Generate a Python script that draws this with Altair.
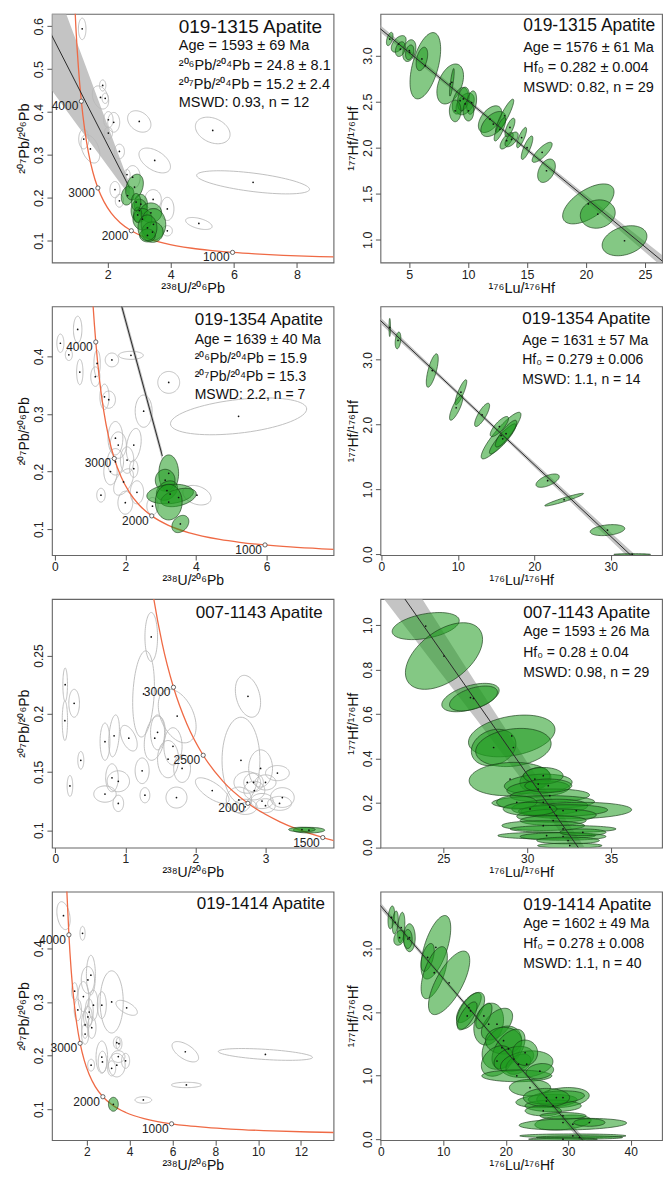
import math
import altair as alt
import pandas as pd

FONT = "Arial, Liberation Sans, Helvetica, sans-serif"

# ---------------- Concordia (Tera-Wasserburg) reference points ----------------
CONC_AGE = [300, 400, 500, 600, 700, 800, 900, 1000, 1125, 1250, 1500, 1750, 2000, 2250,
            2500, 2750, 3000, 3250, 3500, 3750, 4000, 4250, 4500, 4750, 5000]
CONC_X = [20.992, 15.621, 12.399, 10.252, 8.718, 7.568, 6.674, 5.959, 5.245, 4.673, 3.817,
          3.206, 2.749, 2.394, 2.111, 1.880, 1.687, 1.525, 1.387, 1.267, 1.163, 1.071,
          0.990, 0.918, 0.853]
CONC_Y = [0.05236, 0.05473, 0.05725, 0.05993, 0.06279, 0.06583, 0.06907, 0.07253, 0.07718,
          0.08222, 0.09364, 0.10711, 0.12304, 0.14192, 0.16433, 0.19099, 0.22276, 0.26066,
          0.30597, 0.36020, 0.42520, 0.50322, 0.59697, 0.70978, 0.84565]
MARK_AGES_A = [1000, 2000, 3000, 4000]
MARK_AGES_B = [1500, 2000, 2500, 3000]

# ---------------- ellipses: (centre x, centre y, half-width x, half-width y, correlation) -------
L1_GREY = [(1.19, 0.594, 0.12, 0.025, 0.0), (1.84, 0.462, 0.10, 0.013, 0.0),
           (1.77, 0.434, 0.26, 0.027, -0.3), (1.92, 0.432, 0.10, 0.012, 0.0),
           (2.02, 0.382, 0.15, 0.019, 0.0), (2.19, 0.376, 0.19, 0.023, 0.0),
           (2.02, 0.351, 0.13, 0.014, 0.0), (3.00, 0.378, 0.37, 0.025, -0.3),
           (1.24, 0.337, 0.16, 0.023, 0.0), (1.45, 0.314, 0.30, 0.033, -0.4),
           (2.37, 0.308, 0.16, 0.017, 0.0), (3.49, 0.287, 0.50, 0.029, -0.5),
           (5.33, 0.357, 0.55, 0.031, -0.3), (6.61, 0.236, 1.79, 0.027, -0.6),
           (2.61, 0.254, 0.10, 0.012, 0.0), (2.79, 0.248, 0.24, 0.027, 0.0),
           (2.23, 0.219, 0.16, 0.019, 0.0), (2.37, 0.193, 0.13, 0.015, 0.0),
           (3.44, 0.196, 0.26, 0.023, 0.0), (3.89, 0.174, 0.21, 0.027, 0.0),
           (3.89, 0.123, 0.16, 0.012, 0.0), (4.89, 0.140, 0.42, 0.014, -0.5)]
L1_GREEN = [(2.63, 0.205, 0.20, 0.022, 0.2), (2.85, 0.225, 0.28, 0.030, 0.3),
            (3.05, 0.185, 0.21, 0.023, 0.0), (3.00, 0.170, 0.26, 0.027, 0.0),
            (3.37, 0.165, 0.34, 0.023, 0.0), (3.10, 0.150, 0.30, 0.025, 0.0),
            (3.45, 0.138, 0.39, 0.037, 0.0), (3.42, 0.120, 0.34, 0.024, 0.0),
            (3.26, 0.112, 0.25, 0.015, 0.0), (2.95, 0.160, 0.13, 0.018, 0.0),
            (2.90, 0.190, 0.15, 0.020, 0.0), (3.26, 0.130, 0.30, 0.030, 0.0)]
L2_GREY = [(0.16, 0.423, 0.10, 0.016, 0.0), (0.40, 0.403, 0.10, 0.010, 0.0),
           (0.65, 0.447, 0.12, 0.023, 0.0), (0.71, 0.373, 0.09, 0.022, 0.0),
           (1.20, 0.388, 0.09, 0.023, 0.0), (1.15, 0.365, 0.13, 0.017, 0.0),
           (1.62, 0.394, 0.19, 0.012, 0.0), (2.16, 0.402, 0.35, 0.007, 0.0),
           (3.23, 0.355, 0.31, 0.019, 0.0), (1.41, 0.330, 0.13, 0.022, 0.0),
           (1.53, 0.325, 0.19, 0.015, 0.0), (2.52, 0.305, 0.24, 0.028, 0.0),
           (5.21, 0.296, 1.93, 0.032, 0.4), (1.72, 0.258, 0.21, 0.029, 0.0),
           (1.80, 0.246, 0.23, 0.023, 0.0), (2.24, 0.246, 0.21, 0.029, 0.3),
           (1.72, 0.217, 0.23, 0.023, 0.0), (2.05, 0.220, 0.19, 0.023, 0.0),
           (1.58, 0.200, 0.19, 0.023, 0.0), (1.31, 0.159, 0.12, 0.012, 0.0),
           (2.00, 0.146, 0.21, 0.020, 0.0), (2.33, 0.164, 0.19, 0.020, 0.0),
           (2.77, 0.140, 0.16, 0.015, 0.0), (4.03, 0.159, 0.40, 0.017, -0.3),
           (1.95, 0.182, 0.28, 0.023, 0.5), (2.24, 0.205, 0.12, 0.015, 0.0)]
L2_GREEN = [(3.23, 0.197, 0.28, 0.032, 0.0), (3.13, 0.185, 0.28, 0.019, 0.0),
            (3.18, 0.167, 0.30, 0.017, 0.3), (3.27, 0.161, 0.66, 0.017, 0.2),
            (3.51, 0.155, 0.50, 0.016, 0.4), (3.23, 0.147, 0.38, 0.031, 0.0),
            (3.56, 0.109, 0.24, 0.015, 0.3)]
L3_GREY = [(0.142, 0.225, 0.033, 0.0143, 0.0), (0.138, 0.194, 0.038, 0.017, 0.0),
           (0.27, 0.209, 0.076, 0.012, 0.0), (0.365, 0.160, 0.043, 0.0076, 0.0),
           (0.21, 0.138, 0.040, 0.009, 0.0), (1.37, 0.266, 0.09, 0.021, 0.0),
           (1.26, 0.217, 0.155, 0.037, 0.2), (0.71, 0.176, 0.07, 0.016, 0.0),
           (0.84, 0.181, 0.076, 0.018, 0.3), (1.05, 0.179, 0.12, 0.011, -0.5),
           (1.42, 0.179, 0.15, 0.019, 0.3), (1.46, 0.184, 0.10, 0.015, 0.0),
           (1.74, 0.198, 0.27, 0.023, -0.4), (1.68, 0.172, 0.13, 0.016, 0.0),
           (1.61, 0.161, 0.15, 0.016, 0.0), (1.81, 0.153, 0.12, 0.012, 0.0),
           (0.81, 0.145, 0.09, 0.012, 0.0), (0.90, 0.142, 0.16, 0.009, 0.0),
           (0.71, 0.131, 0.16, 0.007, 0.0), (1.24, 0.151, 0.10, 0.011, 0.0),
           (1.28, 0.130, 0.07, 0.0065, 0.0), (0.90, 0.123, 0.076, 0.007, 0.0),
           (1.73, 0.128, 0.15, 0.009, 0.0), (2.24, 0.134, 0.24, 0.011, -0.7),
           (2.75, 0.215, 0.18, 0.018, -0.3), (2.65, 0.160, 0.27, 0.037, 0.0),
           (2.93, 0.153, 0.17, 0.016, 0.0), (2.74, 0.141, 0.19, 0.0093, 0.0),
           (2.83, 0.141, 0.14, 0.008, 0.0), (3.00, 0.141, 0.15, 0.0065, 0.0),
           (3.17, 0.149, 0.17, 0.0065, 0.0), (2.84, 0.134, 0.15, 0.008, 0.0),
           (2.62, 0.126, 0.18, 0.011, 0.0), (2.95, 0.125, 0.16, 0.0065, 0.0),
           (3.00, 0.121, 0.14, 0.006, 0.0), (3.24, 0.128, 0.17, 0.0085, 0.0),
           (3.20, 0.123, 0.17, 0.006, 0.0), (2.71, 0.120, 0.17, 0.0065, 0.0)]
L3_GREEN = [(3.62, 0.1000, 0.225, 0.0024, 0.0), (3.52, 0.1005, 0.19, 0.0020, 0.0)]
L4_GREY = [(0.91, 0.461, 0.31, 0.026, -0.3), (1.80, 0.428, 0.12, 0.013, 0.0),
           (1.43, 0.320, 0.14, 0.016, 0.0), (1.58, 0.285, 0.17, 0.020, 0.0),
           (1.84, 0.310, 0.25, 0.028, 0.0), (2.05, 0.341, 0.31, 0.025, 0.0),
           (2.19, 0.350, 0.21, 0.037, 0.0), (2.11, 0.281, 0.19, 0.025, 0.0),
           (2.05, 0.272, 0.20, 0.020, 0.0), (1.92, 0.257, 0.17, 0.025, 0.0),
           (1.92, 0.240, 0.17, 0.019, 0.0), (2.31, 0.294, 0.21, 0.028, 0.0),
           (2.23, 0.252, 0.20, 0.020, 0.0), (2.70, 0.294, 0.21, 0.025, 0.0),
           (3.16, 0.300, 0.54, 0.058, 0.0), (3.86, 0.289, 0.50, 0.014, -0.6),
           (3.40, 0.224, 0.16, 0.011, 0.0), (3.50, 0.222, 0.14, 0.012, 0.0),
           (2.70, 0.197, 0.27, 0.030, 0.0), (2.73, 0.188, 0.20, 0.020, 0.0),
           (2.20, 0.182, 0.16, 0.011, 0.0), (3.16, 0.176, 0.19, 0.014, 0.0),
           (3.40, 0.182, 0.39, 0.022, 0.0), (3.47, 0.198, 0.31, 0.011, 0.0),
           (3.81, 0.190, 0.19, 0.014, 0.0), (6.60, 0.207, 0.62, 0.019, -0.6),
           (10.34, 0.202, 2.20, 0.011, -0.5), (6.65, 0.145, 0.70, 0.005, 0.0),
           (4.64, 0.117, 0.39, 0.006, 0.0)]
L4_GREEN = [(3.24, 0.109, 0.23, 0.013, 0.0)]

R1_GREEN = [(3.35, 3.18, 0.28, 0.072, 0.5), (4.11, 3.127, 0.63, 0.09, 0.5),
            (5.01, 3.054, 0.56, 0.118, 0.3), (5.04, 3.036, 0.35, 0.08, 0.3),
            (6.37, 2.89, 1.30, 0.36, 0.5), (6.08, 2.964, 0.49, 0.127, 0.4),
            (8.48, 2.692, 1.13, 0.217, 0.4), (9.32, 2.51, 0.66, 0.145, 0.4),
            (9.75, 2.475, 0.77, 0.118, 0.4), (9.60, 2.53, 0.50, 0.127, 0.3),
            (11.86, 2.31, 0.99, 0.145, 0.5), (12.14, 2.257, 1.06, 0.136, 0.5),
            (13.10, 2.347, 0.77, 0.18, 0.9), (12.70, 2.20, 0.49, 0.127, 0.8),
            (13.27, 2.076, 0.56, 0.09, 0.7), (13.69, 2.09, 0.56, 0.08, 0.6),
            (14.54, 2.11, 0.42, 0.11, 0.8), (15.00, 2.00, 0.49, 0.127, 0.8),
            (16.28, 1.95, 0.85, 0.109, 0.8), (16.65, 1.75, 0.75, 0.127, 0.4),
            (20.20, 1.39, 2.18, 0.217, 0.6), (21.00, 1.28, 1.48, 0.154, 0.1),
            (23.27, 0.99, 1.90, 0.163, 0.3), (10.30, 2.49, 0.42, 0.127, 0.3),
            (10.03, 2.40, 0.45, 0.11, 0.0), (13.55, 2.22, 0.42, 0.10, 0.7),
            (8.90, 2.40, 0.49, 0.118, 0.0), (4.25, 3.07, 0.42, 0.08, 0.3),
            (8.62, 2.71, 0.20, 0.15, 0.8)]
R2_GREEN = [(1.09, 3.50, 0.10, 0.14, 0.0), (2.17, 3.30, 0.37, 0.129, 0.3),
            (6.65, 2.835, 0.78, 0.258, 0.7), (10.40, 2.50, 0.76, 0.193, 0.85),
            (9.78, 2.26, 0.87, 0.193, 0.8), (13.17, 2.15, 0.98, 0.18, 0.8),
            (15.65, 1.83, 2.60, 0.36, 0.9), (15.43, 1.97, 1.20, 0.155, 0.8),
            (15.87, 1.78, 1.74, 0.232, 0.9), (16.30, 1.86, 1.41, 0.206, 0.85),
            (21.74, 1.134, 1.52, 0.103, 0.6), (23.90, 0.84, 2.54, 0.098, 0.95),
            (29.57, 0.37, 2.26, 0.085, 0.3), (32.80, -0.005, 2.40, 0.012, 0.0)]
R3_GREEN = [(23.95, 0.996, 2.00, 0.061, 0.4), (25.04, 0.861, 2.30, 0.150, 0.5),
            (26.62, 0.674, 1.71, 0.064, 0.5), (26.80, 0.670, 1.43, 0.056, 0.5),
            (29.08, 0.501, 2.58, 0.094, 0.3), (28.00, 0.449, 1.33, 0.082, 0.2),
            (29.18, 0.449, 2.25, 0.086, 0.2), (28.98, 0.307, 2.44, 0.075, 0.1),
            (30.46, 0.307, 0.89, 0.052, 0.3), (30.66, 0.284, 2.02, 0.045, 0.2),
            (30.66, 0.262, 1.87, 0.037, 0.2), (31.35, 0.232, 2.37, 0.030, 0.1),
            (30.96, 0.202, 3.06, 0.030, 0.1), (31.35, 0.180, 2.27, 0.036, 0.2),
            (32.93, 0.165, 3.30, 0.037, 0.1), (32.14, 0.165, 2.66, 0.026, 0.1),
            (31.75, 0.142, 2.37, 0.030, 0.1), (31.55, 0.120, 1.97, 0.022, 0.0),
            (30.96, 0.097, 2.47, 0.022, 0.0), (32.14, 0.082, 3.16, 0.016, 0.0),
            (31.16, 0.052, 2.91, 0.015, 0.0), (32.14, 0.048, 2.56, 0.017, 0.0),
            (32.44, 0.030, 1.87, 0.015, 0.0), (32.54, 0.007, 1.92, 0.011, 0.0),
            (29.38, 0.202, 1.20, 0.030, 0.0), (33.32, 0.067, 1.38, 0.015, 0.0),
            (30.17, 0.172, 1.60, 0.030, 0.0), (30.96, 0.322, 1.18, 0.037, 0.0),
            (31.26, 0.277, 1.40, 0.030, 0.0)]
R4_GREEN = [(1.69, 3.49, 0.53, 0.18, 0.3), (2.32, 3.41, 0.48, 0.18, 0.3),
            (3.28, 3.33, 0.58, 0.24, 0.3), (3.01, 3.17, 0.92, 0.118, 0.3),
            (4.60, 3.17, 0.92, 0.22, 0.0), (8.82, 3.02, 2.38, 0.50, 0.6),
            (7.50, 2.86, 1.06, 0.22, 0.5), (8.56, 2.62, 2.10, 0.41, 0.6),
            (10.94, 2.46, 3.30, 0.50, 0.7), (14.10, 2.07, 1.98, 0.236, 0.7),
            (14.37, 2.02, 2.25, 0.29, 0.6), (13.84, 1.94, 1.58, 0.22, 0.7),
            (17.27, 1.81, 2.38, 0.33, 0.2), (18.60, 1.81, 2.50, 0.25, 0.5),
            (19.39, 1.44, 3.17, 0.34, 0.3), (19.65, 1.55, 2.90, 0.21, 0.0),
            (20.44, 1.42, 2.64, 0.31, 0.5), (18.60, 1.23, 2.50, 0.24, 0.3),
            (21.30, 1.26, 3.17, 0.20, 0.3), (22.03, 1.18, 2.00, 0.16, 0.4),
            (23.35, 1.18, 4.20, 0.21, 0.2), (21.77, 0.996, 5.60, 0.092, 0.0),
            (23.88, 0.81, 3.30, 0.13, 0.0), (26.52, 0.60, 4.90, 0.105, 0.2),
            (29.16, 0.655, 4.20, 0.157, 0.2), (27.58, 0.524, 4.50, 0.092, 0.0),
            (28.10, 0.655, 4.50, 0.105, 0.3), (26.52, 0.655, 3.70, 0.144, 0.0),
            (26.00, 0.446, 2.90, 0.079, 0.0), (29.16, 0.262, 4.50, 0.118, 0.3),
            (30.74, 0.236, 8.60, 0.092, 0.2), (29.16, 0.367, 3.70, 0.052, 0.0),
            (30.74, 0.052, 8.50, 0.030, 0.0), (31.80, 0.026, 6.90, 0.026, 0.0),
            (33.38, 0.262, 2.50, 0.060, 0.0), (16.50, 1.94, 1.30, 0.20, 0.6),
            (4.33, 3.15, 0.70, 0.15, 0.0), (23.10, 1.36, 2.00, 0.20, 0.0),
            (29.16, 0.000, 5.50, 0.020, 0.0), (25.46, 1.07, 2.20, 0.12, 0.2)]

# ---------------- isochron lines and confidence bands ----------------
L1_LINE_X, L1_LINE_Y = [0.0, 2.7], [0.611, 0.222]
L1_BAND_X = [0.0, 0.6, 1.2, 1.8, 2.3, 2.7]
L1_BAND_LO = [0.473, 0.413, 0.353, 0.294, 0.244, 0.204]
L1_BAND_HI = [0.764, 0.645, 0.527, 0.408, 0.309, 0.230]
L2_LINE_X, L2_LINE_Y = [1.85, 3.05], [0.498, 0.227]
L2_BAND_X = [1.85, 2.45, 3.05]
L2_BAND_LO = [0.489, 0.354, 0.218]
L2_BAND_HI = [0.507, 0.372, 0.236]
R1_LINE_X, R1_LINE_Y = [2.0, 27.0], [3.349, 0.714]
R1_BAND_X = [2.0, 8.0, 14.0, 20.0, 27.0]
R1_BAND_LO = [3.309, 2.692, 2.064, 1.417, 0.649]
R1_BAND_HI = [3.389, 2.742, 2.104, 1.487, 0.779]
R2_LINE_X, R2_LINE_Y = [-0.2, 33.5], [3.615, -0.115]
R2_BAND_X = [-0.2, 8.0, 16.0, 25.0, 33.5]
R2_BAND_LO = [3.565, 2.677, 1.792, 0.776, -0.185]
R2_BAND_HI = [3.665, 2.737, 1.852, 0.876, -0.045]
R3_LINE_X, R3_LINE_Y = [21.0, 34.0], [1.303, -0.105]
R3_BAND_X = [21.0, 24.0, 27.0, 30.0, 34.0]
R3_BAND_LO = [1.163, 0.868, 0.573, 0.273, -0.145]
R3_BAND_HI = [1.443, 1.088, 0.733, 0.383, -0.065]
R4_LINE_X, R4_LINE_Y = [-0.1, 33.0], [3.681, -0.095]
R4_BAND_X = [-0.1, 8.0, 16.0, 24.0, 33.0]
R4_BAND_LO = [3.631, 2.727, 1.814, 0.891, -0.155]
R4_BAND_HI = [3.731, 2.787, 1.874, 0.971, -0.035]

# ---------------- texts ----------------
UPB_X, UPB_Y = "²³⁸U/²⁰⁶Pb", "²⁰⁷Pb/²⁰⁶Pb"
LUHF_X, LUHF_Y = "¹⁷⁶Lu/¹⁷⁶Hf", "¹⁷⁷Hf/¹⁷⁶Hf"
L1_TEXT = ["019-1315 Apatite", "Age = 1593 ± 69 Ma", "²⁰⁶Pb/²⁰⁴Pb = 24.8 ± 8.1",
           "²⁰⁷Pb/²⁰⁴Pb = 15.2 ± 2.4", "MSWD: 0.93, n = 12"]
L2_TEXT = ["019-1354 Apatite", "Age = 1639 ± 40 Ma", "²⁰⁶Pb/²⁰⁴Pb = 15.9",
           "²⁰⁷Pb/²⁰⁴Pb = 15.3", "MSWD: 2.2, n = 7"]
L3_TEXT = ["007-1143 Apatite"]
L4_TEXT = ["019-1414 Apatite"]
R1_TEXT = ["019-1315 Apatite", "Age = 1576 ± 61 Ma", "Hf₀ = 0.282 ± 0.004", "MSWD: 0.82, n = 29"]
R2_TEXT = ["019-1354 Apatite", "Age = 1631 ± 57 Ma", "Hf₀ = 0.279 ± 0.006", "MSWD: 1.1, n = 14"]
R3_TEXT = ["007-1143 Apatite", "Age = 1593 ± 26 Ma", "Hf₀ = 0.28 ± 0.04", "MSWD: 0.98, n = 29"]
R4_TEXT = ["019-1414 Apatite", "Age = 1602 ± 49 Ma", "Hf₀ = 0.278 ± 0.008", "MSWD: 1.1, n = 40"]

# ---------------- styling ----------------
W, H = 282, 249
GREEN_FILL = "#1f9a1f"
GREEN_EDGE = "#163816"
GREY_EDGE = "#b9b9b9"
CONC_COLOR = "#ef6a45"
BAND_COLOR = "#b0b0b0"
N_PTS = 72


def ellipse_frame(items):
    rows = []
    for k, (cx, cy, sx, sy, r) in enumerate(items):
        s = math.sqrt(max(0.0, 1.0 - r * r))
        for i in range(N_PTS + 1):
            t = 2 * math.pi * i / N_PTS
            rows.append({"e": k, "i": i, "x": cx + sx * math.cos(t),
                         "y": cy + sy * (r * math.cos(t) + s * math.sin(t))})
    return pd.DataFrame(rows)


def centre_frame(items):
    return pd.DataFrame({"x": [e[0] for e in items], "y": [e[1] for e in items]})


def build(p):
    X = alt.X("x:Q", scale=alt.Scale(domain=p["xdom"], nice=False, zero=False),
              axis=alt.Axis(values=p["xticks"], format=p["xfmt"], title=p["xtitle"],
                            labelFontSize=p["tfs"], titleFontSize=p["afs"], titlePadding=1))
    Y = alt.Y("y:Q", scale=alt.Scale(domain=p["ydom"], nice=False, zero=False),
              axis=alt.Axis(values=p["yticks"], format=p["yfmt"], title=p["ytitle"],
                            labelFontSize=p["tfs"], titleFontSize=p["afs"], titlePadding=1))
    layers = []
    if p.get("band"):
        bx, blo, bhi = p["band"]
        layers.append(alt.Chart(pd.DataFrame({"x": bx, "y": blo, "y2": bhi}))
                      .mark_area(clip=True, color=BAND_COLOR, opacity=0.75)
                      .encode(x=X, y=Y, y2=alt.Y2("y2:Q")))
    line_chart = None
    if p.get("line"):
        lx, ly = p["line"]
        line_chart = (alt.Chart(pd.DataFrame({"x": lx, "y": ly}))
                      .mark_line(clip=True, color="#2a2a2a", strokeWidth=1.0)
                      .encode(x=X, y=Y))
    if p.get("grey"):
        layers.append(alt.Chart(ellipse_frame(p["grey"]))
                      .mark_line(clip=True, stroke=GREY_EDGE, strokeWidth=0.9)
                      .encode(x=X, y=Y, detail="e:N", order="i:Q"))
    if p.get("conc"):
        layers.append(alt.Chart(pd.DataFrame({"x": CONC_X, "y": CONC_Y}))
                      .mark_line(clip=True, color=CONC_COLOR, strokeWidth=1.3,
                                 interpolate="monotone")
                      .encode(x=X, y=Y))
        ages = p["conc"]
        mk = pd.DataFrame({"x": [CONC_X[CONC_AGE.index(a)] for a in ages],
                           "y": [CONC_Y[CONC_AGE.index(a)] for a in ages],
                           "lab": [str(a) for a in ages]})
        layers.append(alt.Chart(mk).mark_point(clip=True, shape="circle", size=18, filled=True,
                                               fill="white", stroke="#444", strokeWidth=0.8,
                                               opacity=1).encode(x=X, y=Y))
        layers.append(alt.Chart(mk).mark_text(align="right", baseline="middle", dx=-3, dy=5,
                                              fontSize=12, font=FONT, color="#222")
                      .encode(x=X, y=Y, text="lab:N"))
    if line_chart is not None and p["line_below"]:
        layers.append(line_chart)
    layers.append(alt.Chart(ellipse_frame(p["green"]))
                  .mark_line(clip=True, fill=GREEN_FILL, fillOpacity=0.55, stroke=GREEN_EDGE,
                             strokeOpacity=0.8, strokeWidth=0.8)
                  .encode(x=X, y=Y, detail="e:N", order="i:Q"))
    if line_chart is not None and not p["line_below"]:
        layers.append(line_chart)
    allc = (p.get("grey") or []) + p["green"]
    layers.append(alt.Chart(centre_frame(allc))
                  .mark_circle(clip=True, size=3, color="#111", opacity=1)
                  .encode(x=X, y=Y))
    tx = p["tx"]
    for j, s in enumerate(p["text"]):
        fs = p["title_fs"] if j == 0 else p["body_fs"]
        layers.append(alt.Chart(pd.DataFrame({"t": [s]}))
                      .mark_text(align="left", baseline="middle", fontSize=fs, font=FONT,
                                 color="#111")
                      .encode(x=alt.value(tx), y=alt.value(p["ty"][j]), text="t:N"))
    return alt.layer(*layers).properties(width=W, height=H)


PANELS = [
    dict(xdom=[0.23, 9.16], ydom=[0.049, 0.629], xticks=[2, 4, 6, 8],
         yticks=[0.1, 0.2, 0.3, 0.4, 0.5, 0.6], xfmt="d", yfmt=".1f",
         xtitle=UPB_X, ytitle=UPB_Y, tfs=12.5, afs=14.5,
         grey=L1_GREY, green=L1_GREEN, conc=MARK_AGES_A,
         band=(L1_BAND_X, L1_BAND_LO, L1_BAND_HI), line=(L1_LINE_X, L1_LINE_Y), line_below=True,
         text=L1_TEXT, tx=127, ty=[13, 32, 52, 71, 89], title_fs=19, body_fs=14.5),
    dict(xdom=[2.56, 26.45], ydom=[0.754, 3.453], xticks=[5, 10, 15, 20, 25],
         yticks=[1.0, 1.5, 2.0, 2.5, 3.0], xfmt="d", yfmt=".1f",
         xtitle=LUHF_X, ytitle=LUHF_Y, tfs=12.5, afs=14.5,
         green=R1_GREEN, band=(R1_BAND_X, R1_BAND_LO, R1_BAND_HI),
         line=(R1_LINE_X, R1_LINE_Y), line_below=False,
         text=R1_TEXT, tx=143, ty=[12, 34, 54, 74], title_fs=17.5, body_fs=14.5),
    dict(xdom=[-0.08, 7.9], ydom=[0.055, 0.487], xticks=[0, 2, 4, 6],
         yticks=[0.1, 0.2, 0.3, 0.4], xfmt="d", yfmt=".1f",
         xtitle=UPB_X, ytitle=UPB_Y, tfs=12, afs=14,
         grey=L2_GREY, green=L2_GREEN, conc=MARK_AGES_A,
         band=(L2_BAND_X, L2_BAND_LO, L2_BAND_HI), line=(L2_LINE_X, L2_LINE_Y), line_below=True,
         text=L2_TEXT, tx=143, ty=[14, 34, 53, 71, 89], title_fs=17, body_fs=14),
    dict(xdom=[-0.13, 36.7], ydom=[-0.015, 3.825], xticks=[0, 10, 20, 30],
         yticks=[0.0, 1.0, 2.0, 3.0], xfmt="d", yfmt=".1f",
         xtitle=LUHF_X, ytitle=LUHF_Y, tfs=12, afs=14,
         green=R2_GREEN, band=(R2_BAND_X, R2_BAND_LO, R2_BAND_HI),
         line=(R2_LINE_X, R2_LINE_Y), line_below=False,
         text=R2_TEXT, tx=142, ty=[13, 35, 54, 74], title_fs=17, body_fs=14),
    dict(xdom=[-0.047, 3.97], ydom=[0.085, 0.2986], xticks=[0, 1, 2, 3],
         yticks=[0.1, 0.15, 0.2, 0.25], xfmt="d", yfmt="~g",
         xtitle=UPB_X, ytitle=UPB_Y, tfs=12, afs=14,
         grey=L3_GREY, green=L3_GREEN, conc=MARK_AGES_B, line_below=True,
         text=L3_TEXT, tx=144, ty=[14], title_fs=17, body_fs=14),
    dict(xdom=[21.25, 38.04], ydom=[-0.002, 1.118], xticks=[25, 30, 35],
         yticks=[0.0, 0.2, 0.4, 0.6, 0.8, 1.0], xfmt="d", yfmt=".1f",
         xtitle=LUHF_X, ytitle=LUHF_Y, tfs=12, afs=14,
         green=R3_GREEN, band=(R3_BAND_X, R3_BAND_LO, R3_BAND_HI),
         line=(R3_LINE_X, R3_LINE_Y), line_below=False,
         text=R3_TEXT, tx=143, ty=[14, 33, 54, 74], title_fs=17, body_fs=14),
    dict(xdom=[0.37, 13.52], ydom=[0.042, 0.506], xticks=[2, 4, 6, 8, 10, 12],
         yticks=[0.1, 0.2, 0.3, 0.4], xfmt="d", yfmt=".1f",
         xtitle=UPB_X, ytitle=UPB_Y, tfs=12, afs=14,
         grey=L4_GREY, green=L4_GREEN, conc=MARK_AGES_A, line_below=True,
         text=L4_TEXT, tx=145, ty=[12], title_fs=17, body_fs=14),
    dict(xdom=[-0.05, 45.0], ydom=[-0.016, 3.897], xticks=[0, 10, 20, 30, 40],
         yticks=[0.0, 1.0, 2.0, 3.0], xfmt="d", yfmt=".1f",
         xtitle=LUHF_X, ytitle=LUHF_Y, tfs=12, afs=14,
         green=R4_GREEN, band=(R4_BAND_X, R4_BAND_LO, R4_BAND_HI),
         line=(R4_LINE_X, R4_LINE_Y), line_below=False,
         text=R4_TEXT, tx=143, ty=[13, 33, 53, 73], title_fs=17, body_fs=14),
]

charts = [build(p) for p in PANELS]

chart = (
    alt.concat(*charts, columns=2, spacing={"row": 44, "column": 47}, bounds="flush")
    .properties(padding={"left": 16, "top": 12, "right": 0, "bottom": 0}, background="white")
    .configure_view(stroke="#666666", strokeWidth=1.1)
    .configure_axis(labelFont=FONT, titleFont=FONT, labelColor="#222222", titleColor="#111111",
                    tickColor="#555555", domain=False, grid=False, tickSize=5, labelPadding=1,
                    titleFontWeight="normal", labelFlush=False,
                    labelOverlap=False, labelBound=False)
    .configure_axisLeft(labelAngle=-90, labelAlign="center", labelBaseline="bottom")
)

chart.save("out.html", embed_options={"renderer": "svg", "actions": False})
